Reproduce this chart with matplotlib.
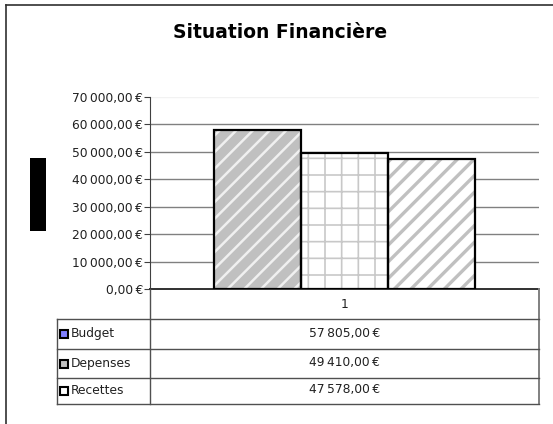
import matplotlib
matplotlib.use("Agg")
import matplotlib.pyplot as plt
from matplotlib.lines import Line2D
from matplotlib.patches import Rectangle

plt.rcParams['font.family'] = ['DejaVu Sans']

title = "Situation Financière"
categories = ["1"]
series_names = ["Budget", "Depenses", "Recettes"]
series_values = [57805.00, 49410.00, 47578.00]
y_ticks = [0, 10000, 20000, 30000, 40000, 50000, 60000, 70000]

W, H = 553, 424
fig = plt.figure(figsize=(W / 100, H / 100), dpi=100)
fig.patch.set_facecolor('white')

FS = 8.8


def fx(x):
    return x / W


def fy(y):
    return 1 - y / H


def fmt(v):
    s = f"{v:,.2f}".replace(",", "\u2009").replace(".", ",")
    return s + "\u2009€"


# plot area in pixels
PL, PR, PT, PB = 150, 539, 97, 289
ax = fig.add_axes([fx(PL), fy(PB), (PR - PL) / W, (PB - PT) / H])
ax.set_xlim(0.5, 1.5)
ax.set_ylim(0, 70000)

bar_w = 87 / (PR - PL)
faces = ['#c0c0c0', 'white', 'white']
hcols = ['#f0f0f0', '#c8c8c8', '#c0c0c0']
hatches = ['//', '+', '//']
hlw = [1.8, 1.2, 2.4]
n = len(series_names)
for i, (name, v) in enumerate(zip(series_names, series_values)):
    xpos = 1 + (i - (n - 1) / 2) * bar_w
    plt.rcParams['hatch.linewidth'] = hlw[i]
    ax.bar(xpos, v, width=bar_w, color=faces[i], edgecolor=hcols[i],
           hatch=hatches[i], linewidth=0, zorder=3)
    ax.bar(xpos, v, width=bar_w, fill=False, edgecolor='black',
           linewidth=1.6, zorder=4)

for t in y_ticks[1:-1]:
    ax.axhline(t, color='#808080', linewidth=1.0, zorder=1)
ax.axhline(y_ticks[-1], color='#f2f2f2', linewidth=1.0, zorder=1)

ax.set_yticks(y_ticks)
ax.set_yticklabels([fmt(t) for t in y_ticks], fontsize=FS, color='#202020')
ax.tick_params(axis='y', length=4, width=0.8, pad=1, color='#404040')
ax.set_xticks([])
for s in ['top', 'right']:
    ax.spines[s].set_visible(False)
ax.spines['left'].set_color('#404040')
ax.spines['bottom'].set_color('#303030')
ax.spines['bottom'].set_linewidth(1.4)

# title
fig.text(fx(280), fy(33), title, fontsize=13.5, fontweight='bold',
         ha='center', va='center')

# outer frame (top and left)
fig.add_artist(Line2D([fx(6), fx(W)], [fy(5), fy(5)], color='#303030', lw=1.2))
fig.add_artist(Line2D([fx(6), fx(6)], [fy(5), fy(H)], color='#303030', lw=1.2))

# black box on left
fig.add_artist(Rectangle((fx(30), fy(231)), (46 - 30) / W, (231 - 158) / H,
                         facecolor='black', edgecolor='none'))

# data table
TL, TD, TR = 57, 150, 539
rows_y = [319, 349, 378, 404]
lc = '#505050'
fig.add_artist(Line2D([fx(TD), fx(TD)], [fy(PB), fy(rows_y[-1])], color=lc, lw=1.0))
fig.add_artist(Line2D([fx(TR), fx(TR)], [fy(PB), fy(rows_y[-1])], color='#808080', lw=1.4))
fig.add_artist(Line2D([fx(TL), fx(TL)], [fy(rows_y[0]), fy(rows_y[-1])], color=lc, lw=1.0))
for y in rows_y:
    fig.add_artist(Line2D([fx(TL), fx(TR)], [fy(y), fy(y)], color=lc, lw=1.0))

fig.text(fx((TD + TR) / 2), fy((PB + rows_y[0]) / 2), categories[0],
         fontsize=FS, ha='center', va='center', color='#202020')

key_faces = ['#8080ff', '#c0c0c0', 'white']
for i, (name, v) in enumerate(zip(series_names, series_values)):
    y0, y1 = rows_y[i], rows_y[i + 1]
    ym = (y0 + y1) / 2
    fig.add_artist(Rectangle((fx(60), fy(ym + 4)), 8 / W, 8 / H,
                             facecolor=key_faces[i], edgecolor='black', lw=1.5))
    fig.text(fx(71), fy(ym), name, fontsize=FS, ha='left', va='center',
             color='#202020')
    fig.text(fx((TD + TR) / 2), fy(ym - 1), fmt(v), fontsize=FS,
             ha='center', va='center', color='#202020')

fig.savefig('out.png', dpi=100, facecolor='white')
